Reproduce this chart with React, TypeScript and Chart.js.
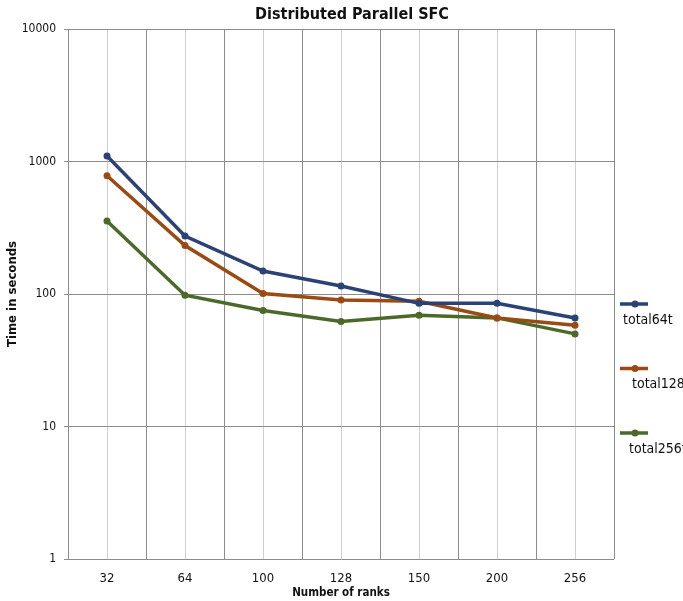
import React, { useEffect, useRef } from "react";
import { Chart, registerables } from "chart.js";

Chart.register(...registerables);

const categories = ["32", "64", "100", "128", "150", "200", "256"];
const seriesNames = ["total64t", "total128t", "total256t"];
const total64t = [1100, 274, 149, 115, 85, 85, 66];
const total128t = [780, 232, 101, 90, 88, 66, 58];
const total256t = [355, 98, 75, 62, 69, 66, 50];
const seriesColors = ["#2a4275", "#9a4b13", "#4b6a2a"];
const yTickValues = [1, 10, 100, 1000, 10000];

const FONT = "'Liberation Sans Narrow', 'DejaVu Sans Condensed', 'Arial Narrow', sans-serif";
const chartTitle = "Distributed Parallel SFC";

const titlePlugin = {
  id: "customTitle",
  afterDraw(chart: any) {
    const ctx = chart.ctx;
    ctx.save();
    ctx.font = `bold 16px ${FONT}`;
    ctx.fillStyle = "#111";
    ctx.textAlign = "center";
    ctx.textBaseline = "middle";
    ctx.fillText(chartTitle, 352, 15);
    ctx.restore();
  },
};

const legendPlugin = {
  id: "customLegend",
  afterDraw(chart: any) {
    const ctx = chart.ctx;
    const area = chart.chartArea;
    const textOffsets = [3, 12, 9];
    ctx.save();
    chart.data.datasets.forEach((ds: any, i: number) => {
      const x0 = area.right + 6;
      const y = area.top + 275 + i * 64.5;
      ctx.strokeStyle = ds.borderColor;
      ctx.lineWidth = 3.5;
      ctx.beginPath();
      ctx.moveTo(x0, y);
      ctx.lineTo(x0 + 28, y);
      ctx.stroke();
      ctx.fillStyle = ds.borderColor;
      ctx.beginPath();
      ctx.arc(x0 + 15, y, 3.5, 0, Math.PI * 2);
      ctx.fill();
      ctx.font = `14px ${FONT}`;
      ctx.fillStyle = "#111";
      ctx.textAlign = "left";
      ctx.textBaseline = "middle";
      ctx.fillText(ds.label, x0 + textOffsets[i], y + 16);
    });
    ctx.restore();
  },
};

export default function App() {
  const canvasRef = useRef<HTMLCanvasElement | null>(null);

  useEffect(() => {
    document.body.style.margin = "0";
    const canvas = canvasRef.current;
    if (!canvas) return;
    const values = [total64t, total128t, total256t];
    const chart = new Chart(canvas, {
      type: "line",
      data: {
        labels: categories,
        datasets: values.map((v, i) => ({
          label: seriesNames[i],
          data: v,
          borderColor: seriesColors[i],
          backgroundColor: seriesColors[i],
          borderWidth: 3.5,
          pointRadius: 3.5,
          pointHoverRadius: 3.5,
          pointBorderWidth: 0,
          tension: 0,
          xAxisID: "x",
          yAxisID: "y",
        })),
      },
      plugins: [titlePlugin, legendPlugin],
      options: {
        animation: false,
        responsive: true,
        maintainAspectRatio: false,
        layout: { padding: { left: 0, right: 0, top: 29, bottom: 0 } },
        plugins: {
          legend: { display: false },
          title: { display: false },
          tooltip: { enabled: false },
        },
        scales: {
          x: {
            type: "category",
            position: "bottom",
            offset: true,
            grid: {
              offset: true,
              color: "#8c8c8c",
              lineWidth: 1,
              drawTicks: false,
              tickLength: 0,
            },
            border: { display: false },
            ticks: {
              color: "#111",
              font: { family: FONT, size: 13 },
              padding: 12,
            },
            title: {
              display: true,
              text: "Number of ranks",
              color: "#111",
              font: { family: FONT, size: 11.5, weight: "bold" },
              padding: { top: 0, bottom: 1 },
            },
            afterFit(scale: any) {
              scale.height = 42;
            },
          },
          xc: {
            type: "category",
            position: "bottom",
            labels: categories,
            offset: true,
            grid: {
              offset: false,
              color: "#cfcfcf",
              lineWidth: 1,
              drawTicks: false,
            },
            border: { display: false },
            ticks: { display: false },
            afterFit(scale: any) {
              scale.height = 0;
            },
          },
          y: {
            type: "logarithmic",
            min: 1,
            max: 10000,
            afterBuildTicks(scale: any) {
              scale.ticks = yTickValues.map((v) => ({ value: v }));
            },
            grid: {
              color: "#8c8c8c",
              lineWidth: 1,
              tickLength: 4,
            },
            border: { color: "#8c8c8c", width: 1 },
            ticks: {
              color: "#111",
              font: { family: FONT, size: 12 },
              padding: 8,
              callback: (v: any) => String(v),
            },
            title: {
              display: true,
              text: "Time in seconds",
              color: "#111",
              font: { family: FONT, size: 13, weight: "bold" },
              padding: { top: 5, bottom: 0 },
            },
            afterFit(scale: any) {
              scale.width = 68;
            },
          },
          yR: {
            type: "linear",
            position: "right",
            min: 0,
            max: 1,
            grid: { display: false },
            border: { display: false },
            ticks: { display: false },
            afterFit(scale: any) {
              scale.width = 69;
            },
          },
        },
      } as any,
    });
    return () => chart.destroy();
  }, []);

  return (
    <div style={{ width: 683, height: 601, position: "relative", background: "#fff" }}>
      <canvas ref={canvasRef} />
    </div>
  );
}
